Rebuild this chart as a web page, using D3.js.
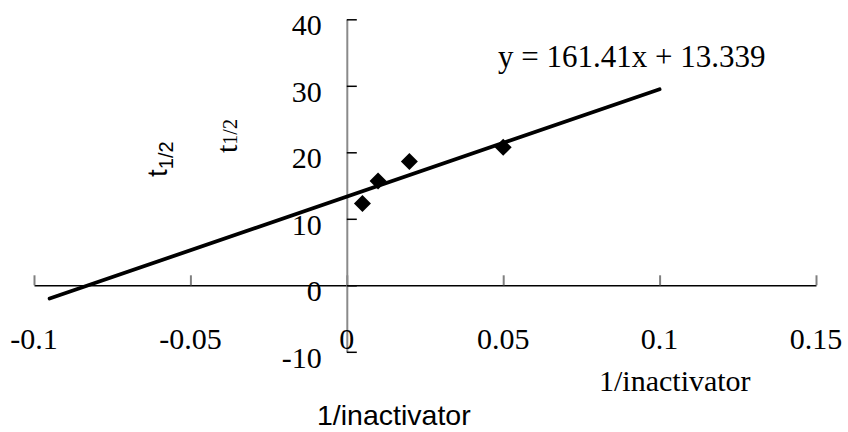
<!DOCTYPE html>
<html>
<head>
<meta charset="utf-8">
<script src="https://cdn.jsdelivr.net/npm/d3@7"></script>
<style>
  html, body { margin: 0; padding: 0; background: #fff; }
  svg { display: block; }
  .serif { font-family: "Liberation Serif", "Times New Roman", serif; }
  .sans { font-family: "Liberation Sans", Arial, sans-serif; }
</style>
</head>
<body>
<svg id="chart" width="848" height="432"></svg>
<script>
// Half-life versus reciprocal inactivator concentration
const inactivatorInv = [0.005, 0.01, 0.02, 0.05];
const halfLife = [12.3, 15.7, 18.6, 20.75];

// Linear trendline y = slope * x + intercept, drawn over this x range
const slope = 161.41;
const intercept = 13.339;
const trendRange = [-0.095, 0.1];

const xTicks = [-0.1, -0.05, 0, 0.05, 0.1, 0.15];
const yTicks = [-10, 0, 10, 20, 30, 40];
const xTickLabels = ["-0.1", "-0.05", "0", "0.05", "0.1", "0.15"];
const yTickLabels = ["-10", "0", "10", "20", "30", "40"];
const equationLabel = "y = 161.41x + 13.339";
const xTitle = "1/inactivator";

const svg = d3.select("#chart");

const x = d3.scaleLinear().domain([-0.1, 0.15]).range([34, 816]);
const y = d3.scaleLinear().domain([-10, 40]).range([351.8, 19.3]);

// Horizontal axis through y = 0, ticks pointing up
const xAxis = svg.append("g")
  .attr("transform", `translate(0,${y(0)})`)
  .call(d3.axisTop(x).tickValues(xTicks).tickSize(10).tickSizeOuter(0).tickFormat(""));
xAxis.select(".domain").attr("stroke", "#000").attr("stroke-width", 1.5);
xAxis.selectAll(".tick line").attr("stroke", "#808080").attr("stroke-width", 2);

// Vertical axis through x = 0, ticks pointing right
const yAxis = svg.append("g")
  .attr("transform", `translate(${x(0)},0)`)
  .call(d3.axisRight(y).tickValues(yTicks).tickSize(10).tickSizeOuter(0).tickFormat(""));
yAxis.select(".domain").attr("stroke", "#8a8a8a").attr("stroke-width", 2);
yAxis.selectAll(".tick line").attr("stroke", "#000").attr("stroke-width", 1.5);

// Tick labels
svg.append("g").attr("class", "serif")
  .selectAll("text").data(xTicks).join("text")
  .attr("x", d => x(d))
  .attr("y", y(-10) - 3)
  .attr("text-anchor", "middle")
  .attr("font-size", 30)
  .text((d, i) => xTickLabels[i]);

svg.append("g").attr("class", "serif")
  .selectAll("text").data(yTicks).join("text")
  .attr("x", x(0) - 25)
  .attr("y", d => y(d) + 16)
  .attr("text-anchor", "end")
  .attr("font-size", 30)
  .text((d, i) => yTickLabels[i]);

// Trendline
const line = d3.line().x(d => x(d)).y(d => y(slope * d + intercept));
svg.append("path")
  .datum(trendRange)
  .attr("d", line)
  .attr("fill", "none")
  .attr("stroke", "#000")
  .attr("stroke-width", 3.8)
  .attr("stroke-linecap", "round");

// Data points as diamonds
const diamond = d3.symbol().type(d3.symbolSquare).size(144);
svg.append("g")
  .selectAll("path").data(inactivatorInv).join("path")
  .attr("d", diamond)
  .attr("transform", (d, i) => `translate(${x(d)},${y(halfLife[i])}) rotate(45)`)
  .attr("fill", "#000");

// Trendline equation
svg.append("text").attr("class", "serif")
  .attr("x", 498).attr("y", 67)
  .attr("font-size", 31)
  .text(equationLabel);

// Axis titles
svg.append("text").attr("class", "serif")
  .attr("x", 599).attr("y", 391)
  .attr("font-size", 30)
  .text(xTitle);

svg.append("text").attr("class", "sans")
  .attr("x", 317).attr("y", 425)
  .attr("font-size", 28.5)
  .text(xTitle);

const t1 = svg.append("text").attr("class", "sans")
  .attr("transform", "translate(167,177) rotate(-90)")
  .attr("font-size", 28);
t1.append("tspan").text("t");
t1.append("tspan").attr("font-size", 20).attr("dy", 6).text("1/2");

const t2 = svg.append("text").attr("class", "serif")
  .attr("transform", "translate(237,153) rotate(-90)")
  .attr("font-size", 30);
t2.append("tspan").text("t");
t2.append("tspan").attr("font-size", 20).attr("dy", 0).text("1/2");
</script>
</body>
</html>
